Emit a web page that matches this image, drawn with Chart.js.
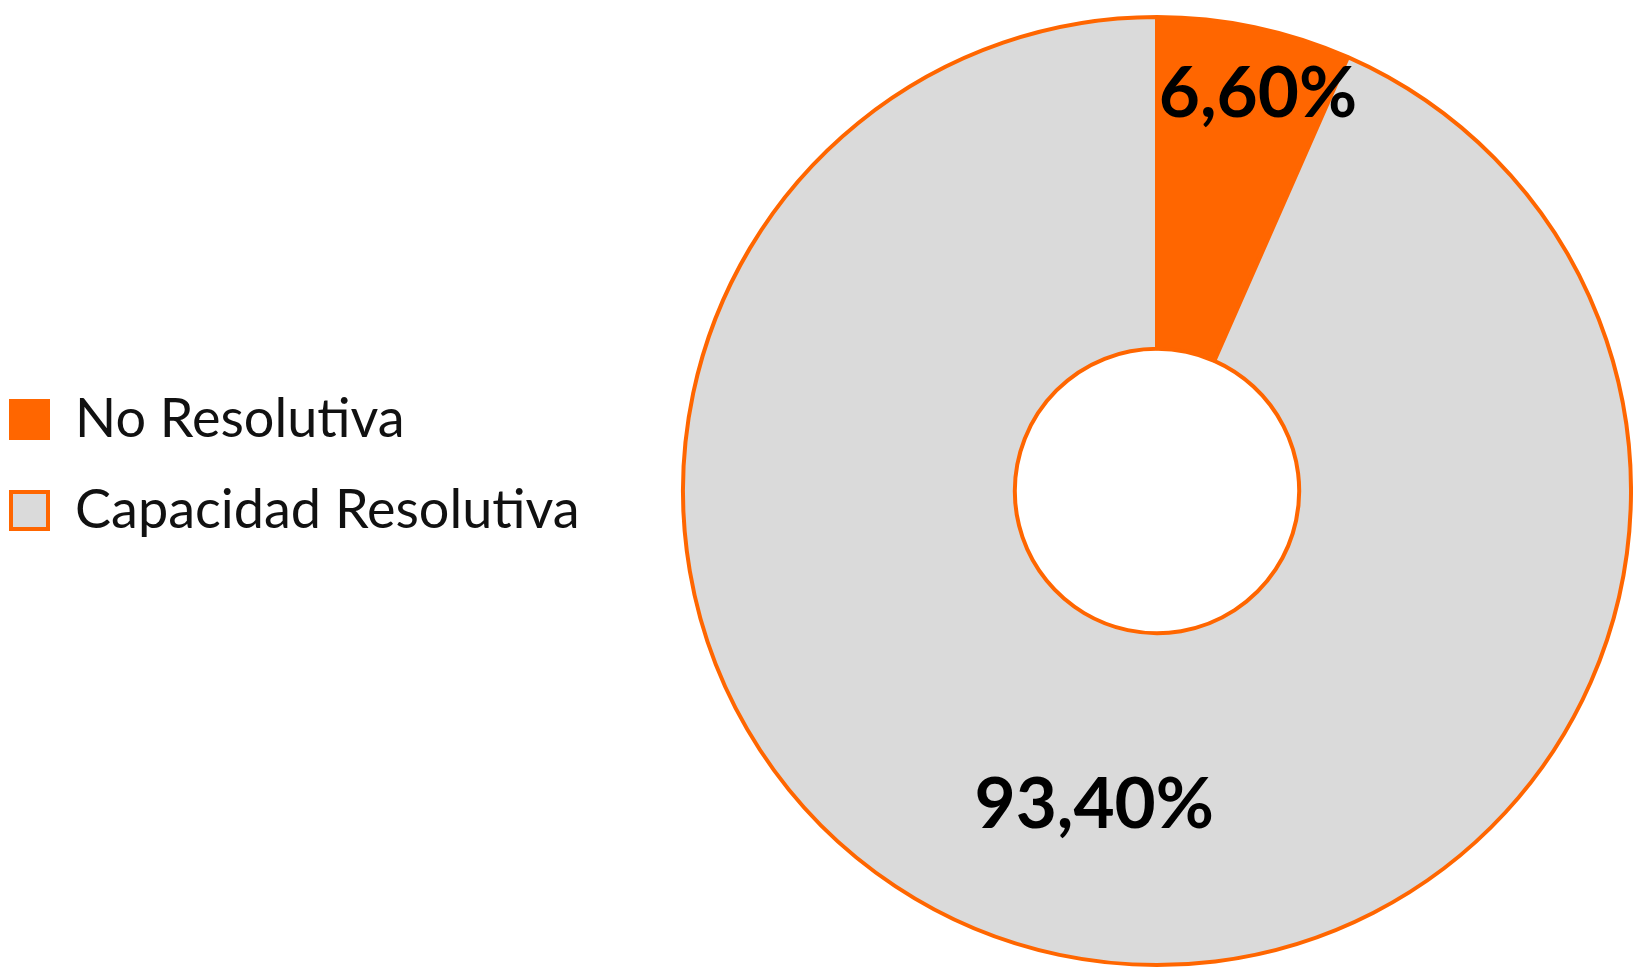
<!DOCTYPE html>
<html>
<head>
<meta charset="utf-8">
<script src="https://cdn.jsdelivr.net/npm/chart.js@4.4.1/dist/chart.umd.min.js"></script>
<style>
  html, body { margin: 0; padding: 0; background: #ffffff; }
  #wrap { width: 1633px; height: 977px; position: relative; }
</style>
</head>
<body>
<div id="wrap"><canvas id="chart" width="1633" height="977"></canvas></div>
<script>
// ---- data ----
const categories = ['No Resolutiva', 'Capacidad Resolutiva'];
const values = [6.6, 93.4];
const sliceColors = ['#FF6600', '#DADADA'];
const borderColor = '#FF6600';

function formatPct(v) {
  return v.toFixed(2).replace('.', ',') + '%';
}

// keeps the legend at the far left and leaves the doughnut area to the right
const legendPlacement = {
  id: 'legendPlacement',
  beforeLayout(chart, args, opts) {
    const lg = chart.legend;
    if (lg && !lg.__fixedWidth) {
      const origFit = lg.fit;
      lg.fit = function () { origFit.call(this); this.width = opts.width; };
      lg.__fixedWidth = true;
    }
  },
  afterLayout(chart, args, opts) {
    const lg = chart.legend;
    if (!lg) return;
    const pad = lg.options.labels.padding;
    const w = lg.right - lg.left;
    lg.left = opts.boxLeft - pad;
    lg.right = lg.left + w;
    lg.top += opts.shiftY;
    lg.bottom += opts.shiftY;
  }
};

// percentage labels inside the slices
const sliceLabels = {
  id: 'sliceLabels',
  afterDatasetsDraw(chart, args, opts) {
    const meta = chart.getDatasetMeta(0);
    const ctx = chart.ctx;
    ctx.save();
    ctx.font = opts.weight + ' ' + opts.size + 'px ' + opts.family;
    ctx.fillStyle = opts.color;
    ctx.textAlign = 'center';
    ctx.textBaseline = 'middle';
    meta.data.forEach((arc, i) => {
      const p = arc.getProps(['x', 'y', 'startAngle', 'endAngle', 'outerRadius'], true);
      const mid = (p.startAngle + p.endAngle) / 2;
      const r = p.outerRadius * opts.radial[i];
      ctx.fillText(formatPct(values[i]),
        p.x + Math.cos(mid) * r + opts.dx[i],
        p.y + Math.sin(mid) * r + opts.dy[i]);
    });
    ctx.restore();
  }
};

function build() {
  new Chart(document.getElementById('chart'), {
    type: 'doughnut',
    data: {
      labels: categories,
      datasets: [{
        data: values,
        backgroundColor: sliceColors,
        borderColor: borderColor,
        borderWidth: 4
      }]
    },
    options: {
      responsive: false,
      animation: false,
      cutout: '30%',
      layout: { padding: { left: 0, right: 0, top: 8, bottom: 3 } },
      plugins: {
        tooltip: { enabled: false },
        legend: {
          display: true,
          position: 'left',
          align: 'center',
          labels: {
            boxWidth: 37,
            boxHeight: 37,
            padding: 37,
            color: '#111111',
            font: { family: 'Lato', size: 54, weight: 'normal' }
          }
        },
        legendPlacement: { width: 681, boxLeft: 11, shiftY: -26 },
        sliceLabels: {
          family: 'Lato', size: 71, weight: 'bold', color: '#000000',
          radial: [0.87, 0.664], dx: [16, 2], dy: [7, 6]
        }
      }
    },
    plugins: [legendPlacement, sliceLabels]
  });
}

const fontLoads = [
  document.fonts.load('54px Lato'),
  document.fonts.load('bold 71px Lato')
];
Promise.all(fontLoads).then(build, build);
</script>
</body>
</html>
